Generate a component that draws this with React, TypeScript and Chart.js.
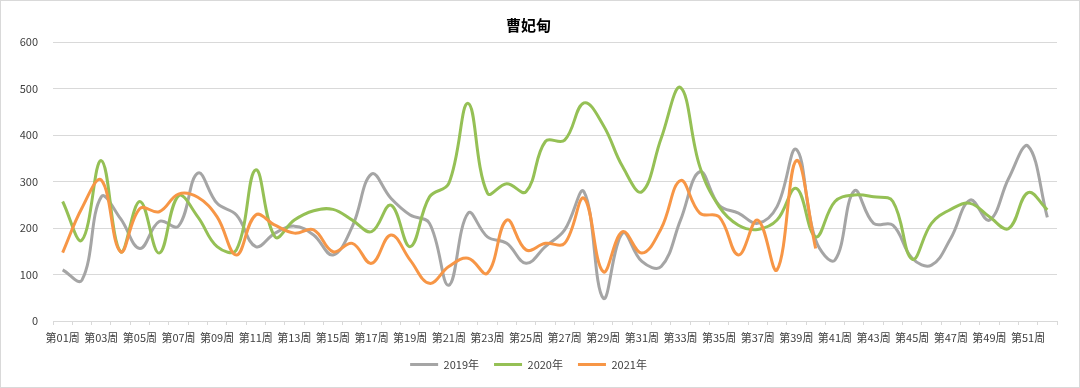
import { useEffect, useRef } from "react";
import { Chart, registerables } from "chart.js";

Chart.register(...registerables);

const weeks = [
  "第01周", "第02周", "第03周", "第04周", "第05周", "第06周", "第07周", "第08周", "第09周", "第10周",
  "第11周", "第12周", "第13周", "第14周", "第15周", "第16周", "第17周", "第18周", "第19周", "第20周",
  "第21周", "第22周", "第23周", "第24周", "第25周", "第26周", "第27周", "第28周", "第29周", "第30周",
  "第31周", "第32周", "第33周", "第34周", "第35周", "第36周", "第37周", "第38周", "第39周", "第40周",
  "第41周", "第42周", "第43周", "第44周", "第45周", "第46周", "第47周", "第48周", "第49周", "第50周",
  "第51周", "第52周",
];

const y2019 = [
  110, 88, 267, 220, 156, 214, 204, 318, 253, 228,
  160, 189, 204, 185, 142, 203, 316, 264, 228, 210,
  77, 232, 181, 167, 124, 160, 196, 278, 49, 189,
  128, 117, 217, 321, 249, 232, 210, 246, 369, 174,
  131, 280, 210, 206, 135, 120, 178, 260, 217, 307,
  376, 223,
];

const y2020 = [
  257, 174, 345, 149, 257, 146, 269, 224, 160, 153,
  325, 181, 217, 237, 240, 217, 192, 249, 160, 267,
  296, 468, 275, 295, 278, 386, 389, 469, 421, 332,
  278, 393, 502, 332, 246, 206, 197, 217, 285, 181,
  257, 271, 267, 257, 133, 210, 240, 253, 224, 199,
  276, 239,
];

const y2021 = [
  147, 243, 303, 149, 242, 235, 273, 266, 224, 142,
  228, 206, 189, 196, 149, 167, 124, 185, 131, 81,
  117, 135, 103, 217, 153, 167, 167, 264, 106, 192,
  146, 199, 302, 232, 224, 142, 217, 110, 345, 156,
];

const seriesNames = ["2019年", "2020年", "2021年"];
const seriesColors = ["#A5A5A5", "#95C055", "#F79646"];
const chartTitle = "曹妃甸";

const FONT = "'Noto Sans CJK SC', 'Noto Sans', sans-serif";

const framePlugin = {
  id: "frame",
  beforeDraw(chart: any) {
    const { ctx, width, height } = chart;
    ctx.save();
    ctx.fillStyle = "#FFFFFF";
    ctx.fillRect(0, 0, width, height);
    ctx.strokeStyle = "#D9D9D9";
    ctx.lineWidth = 1;
    ctx.strokeRect(0.5, 0.5, width - 1, height - 1);
    ctx.restore();
  },
};

export default function App() {
  const ref = useRef<HTMLCanvasElement | null>(null);

  useEffect(() => {
    document.body.style.margin = "0";
    const canvas = ref.current;
    if (!canvas) return;
    const data = [y2019, y2020, y2021];
    const chart = new Chart(canvas, {
      type: "line",
      data: {
        labels: weeks,
        datasets: data.map((d, i) => ({
          label: seriesNames[i],
          data: d,
          borderColor: seriesColors[i],
          backgroundColor: seriesColors[i],
          borderWidth: 3,
          pointRadius: 0,
          pointHoverRadius: 0,
          tension: 0.4,
          fill: false,
          order: 2 - i,
        })),
      },
      options: {
        responsive: false,
        animation: false,
        layout: { padding: { left: 0, right: 23, top: 0, bottom: 8 } },
        plugins: {
          title: {
            display: true,
            text: chartTitle,
            color: "#000000",
            font: { family: FONT, size: 15, weight: "bold" },
            padding: { top: 16, bottom: 8 },
          },
          legend: {
            display: true,
            position: "bottom",
            labels: {
              usePointStyle: true,
              pointStyle: "line",
              pointStyleWidth: 28,
              padding: 15,
              color: "#404040",
              font: { family: FONT, size: 11 },
              sort: (a: any, b: any) => a.datasetIndex - b.datasetIndex,
            },
          },
          tooltip: { enabled: false },
        },
        scales: {
          x: {
            offset: true,
            grid: {
              display: true,
              offset: true,
              drawOnChartArea: false,
              drawTicks: true,
              tickLength: 4,
              color: "#D9D9D9",
            },
            border: { display: true, color: "#D9D9D9", width: 1 },
            ticks: {
              autoSkip: false,
              maxRotation: 0,
              minRotation: 0,
              padding: 6,
              color: "#404040",
              font: { family: FONT, size: 11 },
              callback: (_v: any, i: number) => (i % 2 === 0 ? weeks[i] : ""),
            },
            afterFit: (s: any) => {
              s.height = 23;
            },
          },
          y: {
            min: 0,
            max: 600,
            grid: { color: "#D9D9D9", lineWidth: 1, drawTicks: false },
            border: { display: false },
            ticks: {
              stepSize: 100,
              padding: 15,
              color: "#404040",
              font: { family: FONT, size: 11 },
            },
            afterFit: (s: any) => {
              s.width = 53;
            },
          },
        },
      },
      plugins: [framePlugin],
    });
    return () => chart.destroy();
  }, []);

  return (
    <div style={{ width: 1080, height: 388 }}>
      <canvas ref={ref} width={1080} height={388} />
    </div>
  );
}
